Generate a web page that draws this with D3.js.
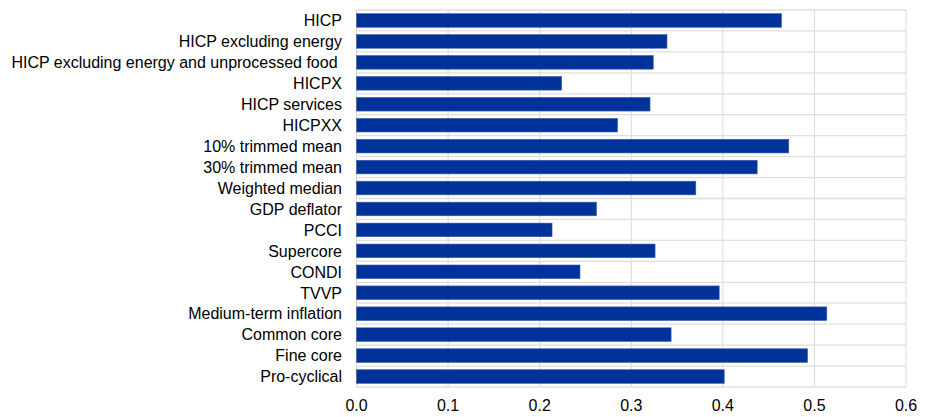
<!DOCTYPE html>
<html><head><meta charset="utf-8">
<script src="https://cdn.jsdelivr.net/npm/d3@7"></script>
<style>body{margin:0;background:#fff}svg{display:block}text{font-family:"Liberation Sans",Arial,sans-serif;fill:#000}</style>
</head><body><svg id="c" width="926" height="417"></svg>
<script>
const categories = ["HICP","HICP excluding energy","HICP excluding energy and unprocessed food ","HICPX","HICP services","HICPXX","10% trimmed mean","30% trimmed mean","Weighted median","GDP deflator","PCCI","Supercore","CONDI","TVVP","Medium-term inflation","Common core","Fine core","Pro-cyclical"];
const values = [0.464,0.339,0.324,0.224,0.3205,0.285,0.472,0.4375,0.3705,0.262,0.2135,0.326,0.244,0.396,0.5135,0.3435,0.4925,0.4015];
const xTicks = [0,0.1,0.2,0.3,0.4,0.5,0.6];

const svg = d3.select("#c");
const L = 356.5, R = 906, T = 10, B = 387;
const x = d3.scaleLinear().domain([0,0.6]).range([L,R]);
const y = d3.scaleBand().domain(categories).range([T,B]).paddingInner(0.35).paddingOuter(0.175);
const yb = d3.scaleBand().domain(categories).range([T,B]);

const g = svg.append("g");
g.selectAll(".vg").data(xTicks).join("line")
 .attr("x1",d=>x(d)).attr("x2",d=>x(d)).attr("y1",T).attr("y2",B)
 .attr("stroke","#d9d9d9").attr("stroke-width",1);
const hb = categories.map(c=>yb(c)).concat([B]);
g.selectAll(".hg").data(hb).join("line")
 .attr("x1",L).attr("x2",R).attr("y1",d=>d).attr("y2",d=>d)
 .attr("stroke","#dedede").attr("stroke-width",1.3);

svg.append("g").selectAll("rect").data(categories).join("rect")
 .attr("x",x(0)).attr("y",d=>y(d))
 .attr("width",(d,i)=>x(values[i])-x(0)).attr("height",y.bandwidth())
 .attr("fill","#003299").attr("stroke","#3a5db0").attr("stroke-width",0.6);

svg.append("g").selectAll("text").data(categories).join("text")
 .attr("x",342).attr("y",d=>yb(d)+yb.bandwidth()/2).attr("dy","0.36em")
 .attr("text-anchor","end").attr("font-size",16).style("white-space","pre")
 .text(d=>d);

svg.append("g").selectAll("text").data(xTicks).join("text")
 .attr("x",d=>x(d)).attr("y",411).attr("text-anchor","middle").attr("font-size",16)
 .text(d=>d3.format(".1f")(d));
</script></body></html>
